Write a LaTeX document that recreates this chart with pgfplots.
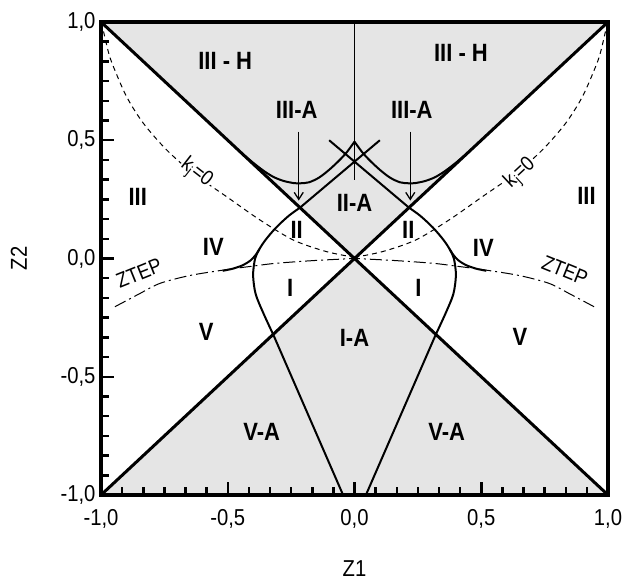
\documentclass[border=0pt]{standalone}
\usepackage{fontspec}
\setmainfont{Liberation Sans}[FakeStretch=0.88]
\usepackage{pgfplots}
\pgfplotsset{compat=1.18}
\usetikzlibrary{calc,arrows.meta}
\newcommand\lab{\fontsize{25}{25}\selectfont\bfseries}
\newcommand\sml{\fontsize{21}{21}\selectfont}
\begin{document}
\begin{tikzpicture}
\begin{axis}[name=ax, scale only axis, width=507pt, height=473pt,
  xmin=-1, xmax=1, ymin=-1, ymax=1,
  xtick={-1,-0.5,0,0.5,1}, ytick={-1,-0.5,0,0.5,1},
  xticklabels={{-1,0},{-0,5},{0,0},{0,5},{1,0}},
  yticklabels={{-1,0},{-0,5},{0,0},{0,5},{1,0}},
  minor tick num=5, tick align=inside, tick pos=left,
  major tick length=13pt, minor tick length=8pt,
  every tick/.style={black, line width=2.5pt},
  axis line style={line width=3.5pt},
  ticklabel style={font=\fontsize{23}{23}\selectfont},
  xticklabel style={yshift=-11pt},
  yticklabel style={xshift=-2pt},
  xlabel={Z1}, ylabel={Z2},
  xlabel style={at={(axis description cs:0.5,0)}, anchor=north, yshift=-65pt, inner sep=0pt, font=\fontsize{23}{23}\selectfont},
  ylabel style={at={(axis description cs:-0.146,0.5)}, anchor=south, inner sep=0pt, font=\fontsize{23}{23}\selectfont},
  axis on top]
% grey regions
\addplot[fill=black!10, draw=none] coordinates {(-1,1) (1,1) (0,0) (-1,1)};
\addplot[fill=black!10, draw=none] coordinates {(-1,-1) (1,-1) (0,0) (-1,-1)};
% diagonals
\addplot[line width=3pt] coordinates {(-1,-1) (1,1)};
\addplot[line width=3pt] coordinates {(-1,1) (1,-1)};
% II-A upper boundaries
\addplot[line width=2pt] coordinates {(-0.215,0.215) (0.1,0.5)};
\addplot[line width=2pt] coordinates {(0.215,0.215) (-0.1,0.5)};
% vertical line
\addplot[line width=1.3pt] coordinates {(0,1) (0,0.33)};
% W curve
\addplot[line width=2pt, smooth] coordinates {(-0.44,0.44) (-0.40,0.405) (-0.36,0.372) (-0.32,0.345) (-0.28,0.328) (-0.24,0.319) (-0.215,0.318) (-0.18,0.322) (-0.14,0.342) (-0.10,0.375) (-0.06,0.415) (-0.03,0.45) (0,0.494)};
\addplot[line width=2pt, smooth] coordinates {(0.44,0.44) (0.40,0.405) (0.36,0.372) (0.32,0.345) (0.28,0.328) (0.24,0.319) (0.215,0.318) (0.18,0.322) (0.14,0.342) (0.10,0.375) (0.06,0.415) (0.03,0.45) (0,0.494)};
% k_j = 0 dashed
\addplot[line width=1pt, dash pattern=on 5pt off 4pt, smooth] coordinates {(-0.99,0.96) (-0.97,0.87) (-0.951,0.811) (-0.899,0.684) (-0.833,0.572) (-0.741,0.459) (-0.636,0.36) (-0.504,0.261) (-0.373,0.163) (-0.241,0.078) (-0.11,0.029) (0,0.005)};
\addplot[line width=1pt, dash pattern=on 5pt off 4pt, smooth] coordinates {(0.99,0.96) (0.97,0.87) (0.951,0.811) (0.899,0.684) (0.833,0.572) (0.741,0.459) (0.636,0.36) (0.504,0.261) (0.373,0.163) (0.241,0.078) (0.11,0.029) (0,0.005)};
% ZTEP dash-dot
\addplot[line width=1pt, dash pattern=on 12pt off 4pt on 2pt off 4pt, smooth] coordinates {(-0.945,-0.204) (-0.85,-0.15) (-0.767,-0.105) (-0.65,-0.072) (-0.518,-0.049) (-0.4,-0.032) (-0.307,-0.020) (-0.15,-0.008) (0,0)};
\addplot[line width=1pt, dash pattern=on 12pt off 4pt on 2pt off 4pt, smooth] coordinates {(0.945,-0.204) (0.85,-0.15) (0.767,-0.105) (0.65,-0.072) (0.518,-0.049) (0.4,-0.032) (0.307,-0.020) (0.15,-0.008) (0,0)};
% IV curves
\addplot[line width=2pt, smooth] coordinates {(-0.52,-0.052) (-0.48,-0.043) (-0.44,-0.028) (-0.41,-0.008) (-0.39,0.015) (-0.375,0.04)};
\addplot[line width=2pt, smooth] coordinates {(0.52,-0.052) (0.48,-0.043) (0.44,-0.028) (0.41,-0.008) (0.39,0.015) (0.375,0.04)};
% I curves
\addplot[line width=2pt, smooth] coordinates {(-0.215,0.215) (-0.26,0.18) (-0.31,0.13) (-0.35,0.08) (-0.375,0.04) (-0.392,0.0) (-0.40,-0.07) (-0.39,-0.15) (-0.36,-0.23) (-0.32,-0.323)};
\addplot[line width=2pt] coordinates {(-0.32,-0.323) (-0.045,-1)};
\addplot[line width=2pt, smooth] coordinates {(0.215,0.215) (0.26,0.18) (0.31,0.13) (0.35,0.08) (0.375,0.04) (0.392,0.0) (0.40,-0.07) (0.39,-0.15) (0.36,-0.23) (0.32,-0.323)};
\addplot[line width=2pt] coordinates {(0.32,-0.323) (0.045,-1)};
% arrows
\addplot[line width=1.3pt, -{Straight Barb[length=7pt,width=9pt]}] coordinates {(-0.22,0.536) (-0.22,0.245)};
\addplot[line width=1.3pt, -{Straight Barb[length=7pt,width=9pt]}] coordinates {(0.22,0.536) (0.22,0.245)};
% labels
\node[font=\lab] at (axis cs:-0.51,0.835) {III - H};
\node[font=\lab] at (axis cs:0.42,0.87) {III - H};
\node[font=\lab] at (axis cs:-0.228,0.628) {III-A};
\node[font=\lab] at (axis cs:0.226,0.628) {III-A};
\node[font=\lab] at (axis cs:-0.855,0.262) {III};
\node[font=\lab] at (axis cs:0.915,0.265) {III};
\node[font=\lab] at (axis cs:0,0.233) {II-A};
\node[font=\lab] at (axis cs:-0.228,0.12) {II};
\node[font=\lab] at (axis cs:0.212,0.12) {II};
\node[font=\lab] at (axis cs:-0.557,0.05) {IV};
\node[font=\lab] at (axis cs:0.508,0.045) {IV};
\node[font=\lab] at (axis cs:-0.254,-0.126) {I};
\node[font=\lab] at (axis cs:0.252,-0.126) {I};
\node[font=\lab] at (axis cs:0,-0.337) {I-A};
\node[font=\lab] at (axis cs:-0.585,-0.31) {V};
\node[font=\lab] at (axis cs:0.653,-0.33) {V};
\node[font=\lab] at (axis cs:-0.366,-0.732) {V-A};
\node[font=\lab] at (axis cs:0.364,-0.732) {V-A};
\node[font=\sml, rotate=-38, fill=white, inner sep=1pt] at (axis cs:-0.625,0.36) {k\textsubscript{j}=0};
\node[font=\sml, rotate=43, fill=white, inner sep=1pt] at (axis cs:0.655,0.36) {k\textsubscript{j}=0};
\node[font=\sml, rotate=22] at (axis cs:-0.85,-0.063) {ZTEP};
\node[font=\sml, rotate=-22] at (axis cs:0.83,-0.05) {ZTEP};
\end{axis}
\pgfresetboundingbox
\path ($(ax.south west)+(-101pt,-88pt)$) rectangle ($(ax.north east)+(30pt,22pt)$);
\end{tikzpicture}
\end{document}
